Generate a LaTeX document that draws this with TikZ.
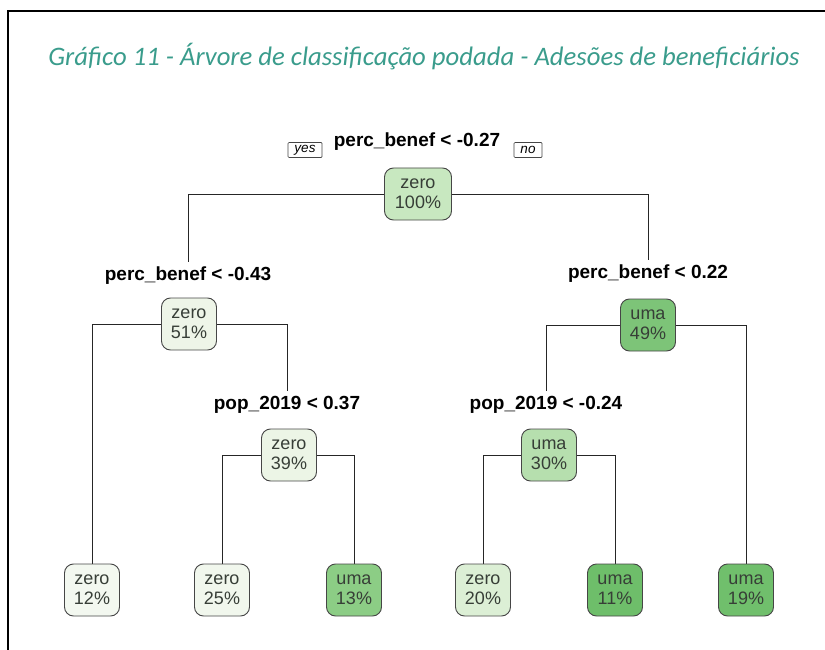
\documentclass[tikz,border=0pt]{standalone}
\usepackage{fontspec}
\setmainfont{Liberation Sans}
\newfontfamily\titlefont{Carlito}
\usetikzlibrary{backgrounds}
\definecolor{titleteal}{RGB}{58,156,140}
\definecolor{boxline}{RGB}{70,70,70}
\definecolor{nodetext}{RGB}{55,62,55}
\definecolor{cA}{RGB}{200,232,192}
\definecolor{cB}{RGB}{238,245,232}
\definecolor{cC}{RGB}{125,196,120}
\definecolor{cD}{RGB}{236,245,230}
\definecolor{cE}{RGB}{182,223,174}
\definecolor{cF}{RGB}{243,248,240}
\definecolor{cG}{RGB}{241,247,237}
\definecolor{cH}{RGB}{140,205,133}
\definecolor{cI}{RGB}{220,239,213}
\definecolor{cJ}{RGB}{110,190,106}
\definecolor{cK}{RGB}{112,191,108}
\begin{document}
\begin{tikzpicture}[x=1pt,y=-1pt,
  tbox/.style={draw=boxline, line width=0.9pt, rounded corners=9pt, align=center,
    font=\fontsize{18}{20}\selectfont, text=nodetext, inner xsep=9pt,
    minimum width=55pt, minimum height=52pt},
  splitlab/.style={font=\bfseries\fontsize{19}{22}\selectfont, inner xsep=1pt, inner ysep=5pt},
  yn/.style={draw=boxline, line width=0.7pt, font=\itshape\fontsize{13.5}{14}\selectfont,
    inner xsep=6.5pt, inner ysep=0pt, minimum height=15pt, rounded corners=1pt},
  branch/.style={draw=black!85, line width=0.9pt}]
\useasboundingbox (0,0) rectangle (825,650);
\draw[line width=2pt] (8,650) -- (8,11) -- (825,11);
\node[font=\titlefont\itshape\fontsize{26.7}{30}\selectfont, text=titleteal] (title) at (424,57)
  {Gráfico 11 - Árvore de classificação podada - Adesões de beneficiários};

\node[splitlab] (s1) at (417,142) {perc\_benef < -0.27};
\node[yn] (yes) at (305,150) {yes};
\node[yn] (no) at (528,150) {no};
\node[tbox, fill=cA, minimum width=67pt] (n1) at (418,194) {zero\\100\%};

\node[splitlab] (s2) at (188,276) {perc\_benef < -0.43};
\node[tbox, fill=cB] (n2) at (189,324) {zero\\51\%};
\node[splitlab] (s3) at (648,274) {perc\_benef < 0.22};
\node[tbox, fill=cC] (n3) at (648,325) {uma\\49\%};

\node[splitlab] (s4) at (287,405) {pop\_2019 < 0.37};
\node[tbox, fill=cD] (n4) at (289,455) {zero\\39\%};
\node[splitlab] (s5) at (546,405) {pop\_2019 < -0.24};
\node[tbox, fill=cE] (n5) at (549,455) {uma\\30\%};

\node[tbox, fill=cF] (L1) at (92,590) {zero\\12\%};
\node[tbox, fill=cG] (L2) at (222,590) {zero\\25\%};
\node[tbox, fill=cH] (L3) at (354,590) {uma\\13\%};
\node[tbox, fill=cI] (L4) at (483,590) {zero\\20\%};
\node[tbox, fill=cJ] (L5) at (615,590) {uma\\11\%};
\node[tbox, fill=cK] (L6) at (746,590) {uma\\19\%};

\begin{scope}[on background layer]
\draw[branch] (s2.north) |- (n1) -| (s3.north);
\draw[branch] (L1.north) |- (n2) -| (s4.north);
\draw[branch] (L2.north) |- (n4) -| (L3.north);
\draw[branch] (s5.north) |- (n3) -| (L6.north);
\draw[branch] (L4.north) |- (n5) -| (L5.north);
\end{scope}
\end{tikzpicture}
\end{document}
